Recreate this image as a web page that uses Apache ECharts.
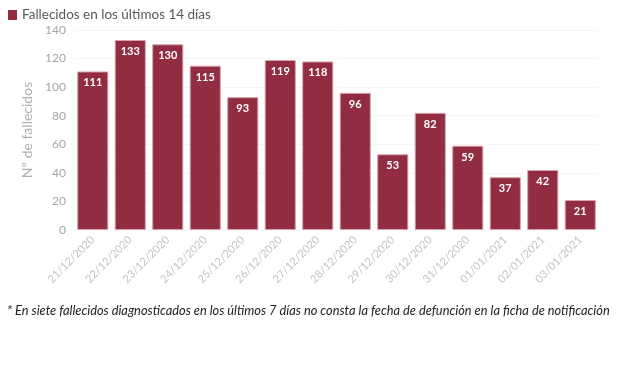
<!DOCTYPE html>
<html><head><meta charset="utf-8">
<script src="https://cdn.jsdelivr.net/npm/echarts@6/dist/echarts.min.js"></script>
<style>html,body{margin:0;padding:0;background:#fff}#c{width:620px;height:368px}</style>
</head><body><div id="c"></div>
<script>
const categories = ['21/12/2020','22/12/2020','23/12/2020','24/12/2020','25/12/2020','26/12/2020','27/12/2020','28/12/2020','29/12/2020','30/12/2020','31/12/2020','01/01/2021','02/01/2021','03/01/2021'];
const fallecidos = [111,133,130,115,93,119,118,96,53,82,59,37,42,21];
const seriesName = 'Fallecidos en los últimos 14 días';
const yName = 'Nº de fallecidos';
const footnote = '* En siete fallecidos diagnosticados en los últimos 7 días no consta la fecha de defunción en la ficha de notificación';

const chart = echarts.init(document.getElementById('c'));
chart.setOption({
  animation: false,
  textStyle: {fontFamily: 'Lato'},
  legend: {
    left: 3, top: 3, itemWidth: 9, itemHeight: 10, itemGap: 4,
    icon: 'rect',
    itemStyle: {borderWidth: 0},
    textStyle: {color: '#595959', fontSize: 13.5, fontFamily: 'Lato'},
    data: [seriesName]
  },
  graphic: [{
    type: 'text', left: 7, top: 304,
    style: {text: footnote, fill: '#222', font: 'italic 12.8px Lato'}
  }],
  grid: {left: 74, right: 21, top: 30, bottom: 138},
  xAxis: {
    type: 'category', data: categories,
    axisLine: {show: false}, axisTick: {show: false},
    axisLabel: {rotate: 45, color: '#c4c4c4', fontSize: 11, margin: 8, interval: 0}
  },
  yAxis: {
    type: 'value', min: 0, max: 140, interval: 20,
    name: yName, nameLocation: 'middle', nameGap: 40, nameMoveOverlap: false,
    nameTextStyle: {color: '#b0b0b0', fontSize: 14},
    axisLine: {show: false}, axisTick: {show: false},
    axisLabel: {color: '#a6a6a6', fontSize: 12, margin: 8},
    splitLine: {lineStyle: {color: '#f6f6f6'}}
  },
  series: [{
    name: seriesName, type: 'bar', data: fallecidos,
    barCategoryGap: '17%',
    itemStyle: {color: '#922d41', borderColor: '#d7a4ad', borderWidth: 1},
    label: {show: true, position: 'insideTop', distance: 6, color: '#fff', fontSize: 11, fontWeight: 'bold'}
  }]
});
</script></body></html>
